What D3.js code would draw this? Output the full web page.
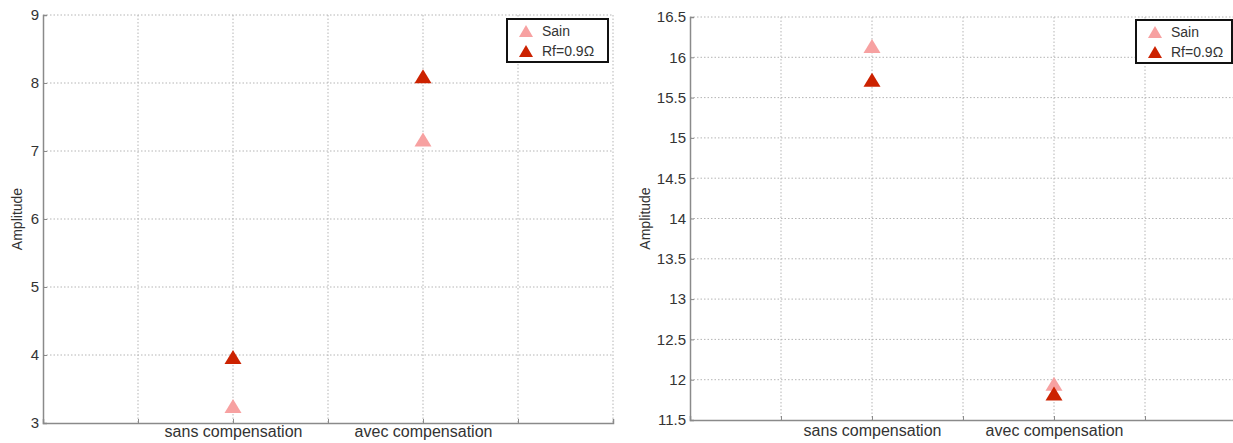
<!DOCTYPE html>
<html>
<head>
<meta charset="utf-8">
<script src="https://cdn.jsdelivr.net/npm/d3@7/dist/d3.min.js"></script>
<style>
  html, body { margin: 0; padding: 0; background: #fff; }
  svg { display: block; font-family: "Liberation Sans", Arial, sans-serif; }
</style>
</head>
<body>
<svg id="chart" width="1233" height="443"></svg>
<script>
// ---- data ----
const categories = ["sans compensation", "avec compensation"];
const categoryPositions = [2, 4];
const xTicks = [0, 1, 2, 3, 4, 5, 6];
const seriesNames = ["Sain", "Rf=0.9Ω"];
const seriesColors = ["#f7a1a1", "#cc2200"];

const leftSain = [3.25, 7.17];
const leftRf = [3.97, 8.10];
const leftYTicks = [3, 4, 5, 6, 7, 8, 9];

const rightSain = [16.14, 11.95];
const rightRf = [15.72, 11.83];
const rightYTicks = [11.5, 12, 12.5, 13, 13.5, 14, 14.5, 15, 15.5, 16, 16.5];

const svg = d3.select("#chart");

function triPath(cx, cy, w, h) {
  return `M${cx},${cy - h / 2}L${cx + w / 2},${cy + h / 2}L${cx - w / 2},${cy + h / 2}Z`;
}

function panel(cfg) {
  const x = d3.scaleLinear().domain([0, 6]).range([cfg.x0, cfg.x1]);
  const y = d3.scaleLinear().domain([cfg.yTicks[0], cfg.yTicks[cfg.yTicks.length - 1]]).range([cfg.y1, cfg.y0]);
  const g = svg.append("g");

  // grid
  g.append("g").selectAll("line.h").data(cfg.yTicks.slice(1)).join("line")
    .attr("x1", cfg.x0).attr("x2", cfg.x1)
    .attr("y1", d => y(d)).attr("y2", d => y(d))
    .attr("stroke", "#b5b5b5").attr("stroke-width", 1).attr("stroke-dasharray", "1.5,2");
  g.append("g").selectAll("line.v").data(xTicks.slice(1)).join("line")
    .attr("x1", d => x(d)).attr("x2", d => x(d))
    .attr("y1", cfg.y0).attr("y2", cfg.y1)
    .attr("stroke", "#b5b5b5").attr("stroke-width", 1).attr("stroke-dasharray", "1.5,2");

  // y axis
  const yAxis = d3.axisLeft(y).tickValues(cfg.yTicks).tickSize(-4).tickPadding(4)
    .tickFormat(d => String(d));
  const ya = g.append("g").attr("transform", `translate(${cfg.x0},0)`).call(yAxis);
  ya.select(".domain").attr("stroke", "#8a8a8a").attr("stroke-width", 1.5);
  ya.selectAll(".tick line").attr("stroke", "#8a8a8a");
  ya.selectAll(".tick text").attr("font-size", 15).attr("fill", "#333")
    .attr("font-family", "Liberation Sans, Arial, sans-serif");

  // x axis
  const xAxis = d3.axisBottom(x).tickValues(xTicks).tickSize(-4).tickPadding(cfg.xPad)
    .tickFormat(d => { const i = categoryPositions.indexOf(d); return i >= 0 ? categories[i] : ""; });
  const xa = g.append("g").attr("transform", `translate(0,${cfg.y1})`).call(xAxis);
  xa.select(".domain").attr("stroke", "#8a8a8a").attr("stroke-width", 1.5);
  xa.selectAll(".tick line").attr("stroke", "#8a8a8a");
  xa.selectAll(".tick text").attr("font-size", 16).attr("fill", "#333")
    .attr("font-family", "Liberation Sans, Arial, sans-serif");

  // y label
  g.append("text")
    .attr("transform", `translate(${cfg.labelX},${(cfg.y0 + cfg.y1) / 2}) rotate(-90)`)
    .attr("text-anchor", "middle").attr("font-size", 14).attr("fill", "#333")
    .text("Amplitude");

  // markers
  const series = [cfg.sain, cfg.rf];
  series.forEach((vals, si) => {
    g.append("g").selectAll("path").data(vals).join("path")
      .attr("d", (v, i) => triPath(x(categoryPositions[i]), y(v), 17, 14))
      .attr("fill", seriesColors[si]);
  });

  // legend
  const lg = g.append("g").attr("transform", `translate(${cfg.legX},${cfg.legY})`);
  lg.append("rect").attr("width", cfg.legW).attr("height", 43)
    .attr("fill", "#fff").attr("stroke", "#111").attr("stroke-width", 2);
  seriesNames.forEach((n, i) => {
    lg.append("path").attr("d", triPath(19, 12 + i * 20, 14, 12)).attr("fill", seriesColors[i]);
    lg.append("text").attr("x", 35).attr("y", 17 + i * 20).attr("font-size", 14)
      .attr("fill", "#333").text(n);
  });
}

panel({ x0: 43, x1: 613, y0: 15, y1: 423, yTicks: leftYTicks, sain: leftSain, rf: leftRf,
        labelX: 22, legX: 507, legY: 19, legW: 101, xPad: 3 });
panel({ x0: 690, x1: 1236, y0: 17, y1: 420, yTicks: rightYTicks, sain: rightSain, rf: rightRf,
        labelX: 650, legX: 1136, legY: 20, legW: 96, xPad: 5 });
</script>
</body>
</html>
